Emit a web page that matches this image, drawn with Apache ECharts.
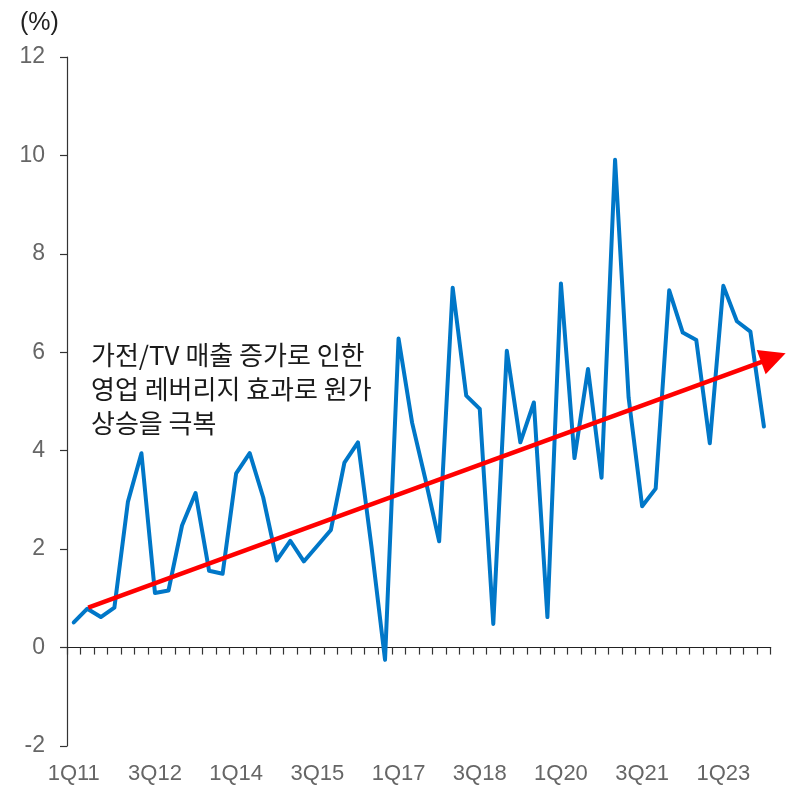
<!DOCTYPE html>
<html>
<head>
<meta charset="utf-8">
<script src="https://cdn.jsdelivr.net/npm/echarts@6/dist/echarts.min.js"></script>
<style>
html,body{margin:0;padding:0;background:#fff;}
#chart{width:810px;height:791px;}
</style>
</head>
<body>
<div id="chart"></div>
<script>
var categories = [
  '1Q11','2Q11','3Q11','4Q11','1Q12','2Q12','3Q12','4Q12',
  '1Q13','2Q13','3Q13','4Q13','1Q14','2Q14','3Q14','4Q14',
  '1Q15','2Q15','3Q15','4Q15','1Q16','2Q16','3Q16','4Q16',
  '1Q17','2Q17','3Q17','4Q17','1Q18','2Q18','3Q18','4Q18',
  '1Q19','2Q19','3Q19','4Q19','1Q20','2Q20','3Q20','4Q20',
  '1Q21','2Q21','3Q21','4Q21','1Q22','2Q22','3Q22','4Q22',
  '1Q23','2Q23','3Q23','4Q23'
];
var margins = [
  0.51,0.79,0.62,0.81,2.96,3.95,1.11,1.16,
  2.48,3.14,1.56,1.50,3.54,3.95,3.05,1.77,
  2.17,1.75,2.07,2.39,3.76,4.17,2.05,-0.25,
  6.28,4.57,3.40,2.16,7.31,5.12,4.85,0.48,
  6.03,4.17,4.98,0.62,7.40,3.85,5.66,3.45,
  9.91,5.08,2.87,3.23,7.26,6.40,6.25,4.15,
  7.35,6.63,6.42,4.49
];
var yTicks = { min: -2, max: 12, interval: 2 };
// trend arrow, in category-index units / %
var trendStart = [1.07, 0.81];
var trendEnd = [51.70, 5.89];
var noteLines = ['가전/TV 매출 증가로 인한', '영업 레버리지 효과로 원가', '상승을 극복'];
var unitLabel = '(%)';

var W = 810, H = 791;
var G = { left: 67, right: 39.3, top: 57, bottom: 45 };
var unit = (W - G.left - G.right) / categories.length;
var overlayMax = -0.5 + (W - G.left) / unit;

var numFont = "'Liberation Sans',sans-serif";

var chart = echarts.init(document.getElementById('chart'), null, { renderer: 'canvas' });
chart.setOption({
  animation: false,
  backgroundColor: '#ffffff',
  title: {
    text: unitLabel, left: 15, top: 6,
    textStyle: { fontSize: 25, fontWeight: 'normal', color: '#222', fontFamily: "'Liberation Sans',sans-serif" }
  },
  grid: [
    { left: G.left, right: G.right, top: G.top, bottom: G.bottom, containLabel: false },
    { left: G.left, right: 0, top: G.top, bottom: G.bottom, containLabel: false }
  ],
  xAxis: [
    {
      type: 'category', gridIndex: 0, data: categories, boundaryGap: true, position: 'bottom',
      axisLine: { show: true, onZero: true, lineStyle: { color: '#222', width: 1.2 } },
      axisTick: { show: true, interval: 0, length: 7, inside: false, lineStyle: { color: '#333', width: 1.2 } },
      axisLabel: { show: false },
      splitLine: { show: false }
    },
    {
      type: 'category', gridIndex: 0, data: categories, boundaryGap: true, position: 'bottom',
      axisLine: { show: false, onZero: false },
      axisTick: { show: false },
      axisLabel: { show: true, interval: 5, margin: 17, fontSize: 22, color: '#666', fontFamily: numFont },
      splitLine: { show: false }
    },
    {
      type: 'value', gridIndex: 1, min: -0.5, max: overlayMax, show: false
    }
  ],
  yAxis: [
    {
      type: 'value', gridIndex: 0, min: yTicks.min, max: yTicks.max, interval: yTicks.interval,
      axisLine: { show: true, lineStyle: { color: '#333', width: 1.2 } },
      axisTick: { show: true, length: 7, lineStyle: { color: '#333', width: 1.2 } },
      axisLabel: { margin: 22, fontSize: 23, color: '#666', fontFamily: numFont },
      splitLine: { show: false }
    },
    {
      type: 'value', gridIndex: 1, min: yTicks.min, max: yTicks.max, show: false
    }
  ],
  series: [
    {
      type: 'line', xAxisIndex: 0, yAxisIndex: 0, data: margins,
      symbol: 'none', smooth: false,
      lineStyle: { color: '#0077C8', width: 4, join: 'round', cap: 'round' },
      itemStyle: { color: '#0077C8' },
      z: 3
    },
    {
      type: 'lines', coordinateSystem: 'cartesian2d', xAxisIndex: 2, yAxisIndex: 1,
      clip: false, polyline: false,
      symbol: ['none', 'triangle'], symbolSize: [25, 26],
      lineStyle: { color: '#FF0000', width: 4.5, opacity: 1, curveness: 0 },
      itemStyle: { color: '#FF0000' },
      data: [{ coords: [trendStart, trendEnd] }],
      z: 4
    }
  ],
  graphic: [
    {
      type: 'text', left: 91, top: 338, z: 10,
      style: {
        text: noteLines.join('\n'),
        fontSize: 26, lineHeight: 34,
        fontFamily: "'Noto Sans CJK KR',sans-serif",
        fill: '#1a1a1a'
      }
    }
  ]
});
</script>
</body>
</html>
